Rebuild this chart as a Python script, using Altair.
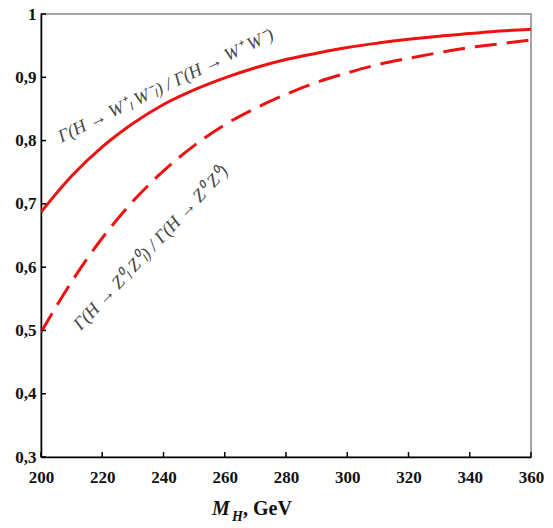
import altair as alt
import pandas as pd

# Higgs mass, GeV
mh = [200, 210, 220, 230, 240, 250, 260, 270, 280, 290, 300, 310, 320, 330, 340, 350, 360]
# Gamma(H -> W+_L W-_L) / Gamma(H -> W+W-)  (solid)
ww = [0.687, 0.744, 0.790, 0.827, 0.857, 0.880, 0.899, 0.915, 0.928, 0.938, 0.947,
      0.954, 0.960, 0.965, 0.969, 0.973, 0.976]
# Gamma(H -> Z0_L Z0_L) / Gamma(H -> Z0Z0)  (dashed)
zz = [0.497, 0.577, 0.646, 0.704, 0.752, 0.792, 0.825, 0.851, 0.873, 0.892, 0.907,
      0.920, 0.930, 0.939, 0.947, 0.953, 0.959]

x_ticks = [200, 220, 240, 260, 280, 300, 320, 340, 360]
y_ticks = [0.3, 0.4, 0.5, 0.6, 0.7, 0.8, 0.9, 1.0]

label_ww = "Γ(H → W⁺ₗ W⁻ₗ) / Γ(H → W⁺ W⁻)"
label_zz = "Γ(H → Z⁰ₗ Z⁰ₗ) / Γ(H → Z⁰ Z⁰)"

W, H = 490, 443
RED = "#ee1111"
FONT = "Liberation Serif"

df_ww = pd.DataFrame({"mh": mh, "ratio": ww})
df_zz = pd.DataFrame({"mh": mh, "ratio": zz})
df_xt = pd.DataFrame({"mh": x_ticks})
df_yt = pd.DataFrame({"ratio": y_ticks})

xs = alt.Scale(domain=[200, 360], nice=False, zero=False)
ys = alt.Scale(domain=[0.3, 1.0], nice=False, zero=False)

common = dict(title=None, tickSize=0, labelOverlap=False, grid=False,
              labelFont=FONT, labelFontWeight="bold", labelFontSize=17,
              labelColor="#111111", domainColor="black", domainWidth=1.5)
xax = alt.Axis(values=x_ticks, labelPadding=12, labelFlush=False, format="d", **common)
yax = alt.Axis(values=y_ticks, labelPadding=5,
               labelExpr="replace(format(datum.value, '~g'), '.', ',')", **common)

X = alt.X("mh:Q", scale=xs, axis=xax)
Y = alt.Y("ratio:Q", scale=ys, axis=yax)

line_ww = alt.Chart(df_ww).mark_line(color=RED, strokeWidth=3, interpolate="monotone",
                                     clip=True).encode(x=X, y=Y)
line_zz = alt.Chart(df_zz).mark_line(color=RED, strokeWidth=3, interpolate="monotone",
                                     strokeDash=[22, 10], clip=True).encode(x=X, y=Y)

yticks = alt.Chart(df_yt).mark_rule(color="black", strokeWidth=1.5).encode(
    y=Y, x=alt.value(0), x2=alt.value(5))
xticks = alt.Chart(df_xt).mark_rule(color="black", strokeWidth=1.5).encode(
    x=X, y=alt.value(H), y2=alt.value(H - 5))

lab_df_ww = pd.DataFrame({"mh": [240.8], "ratio": [0.886], "t": [label_ww]})
lab_df_zz = pd.DataFrame({"mh": [236.0], "ratio": [0.630], "t": [label_zz]})

txt_ww = alt.Chart(lab_df_ww).mark_text(angle=334, font=FONT, fontStyle="italic",
                                        fontSize=18, color="#444444", align="center",
                                        baseline="middle").encode(x=X, y=Y, text="t:N")
txt_zz = alt.Chart(lab_df_zz).mark_text(angle=313, font=FONT, fontStyle="italic",
                                        fontSize=18, color="#444444", align="center",
                                        baseline="middle").encode(x=X, y=Y, text="t:N")

t_m = alt.Chart(df_xt.head(1)).mark_text(text="M", font=FONT, fontStyle="italic",
                                         fontWeight="bold", fontSize=20, align="left",
                                         baseline="alphabetic", color="#111").encode(
    x=alt.value(171), y=alt.value(501))
t_h = alt.Chart(df_xt.head(1)).mark_text(text="H", font=FONT, fontStyle="italic",
                                         fontWeight="bold", fontSize=14, align="left",
                                         baseline="alphabetic", color="#111").encode(
    x=alt.value(191), y=alt.value(507))
t_gev = alt.Chart(df_xt.head(1)).mark_text(text=", GeV", font=FONT,
                                           fontWeight="bold", fontSize=20, align="left",
                                           baseline="alphabetic", color="#111").encode(
    x=alt.value(202), y=alt.value(501))

chart = alt.layer(line_ww, line_zz, yticks, xticks, txt_ww, txt_zz, t_m, t_h, t_gev).properties(
    width=W, height=H,
    autosize=alt.AutoSizeParams(type="none"),
    padding={"left": 41, "top": 14, "right": 22, "bottom": 71},
    background="white",
).configure_view(
    stroke="#888888", strokeWidth=1.5
)

chart.save("out.html", embed_options={"renderer": "svg", "actions": False})
